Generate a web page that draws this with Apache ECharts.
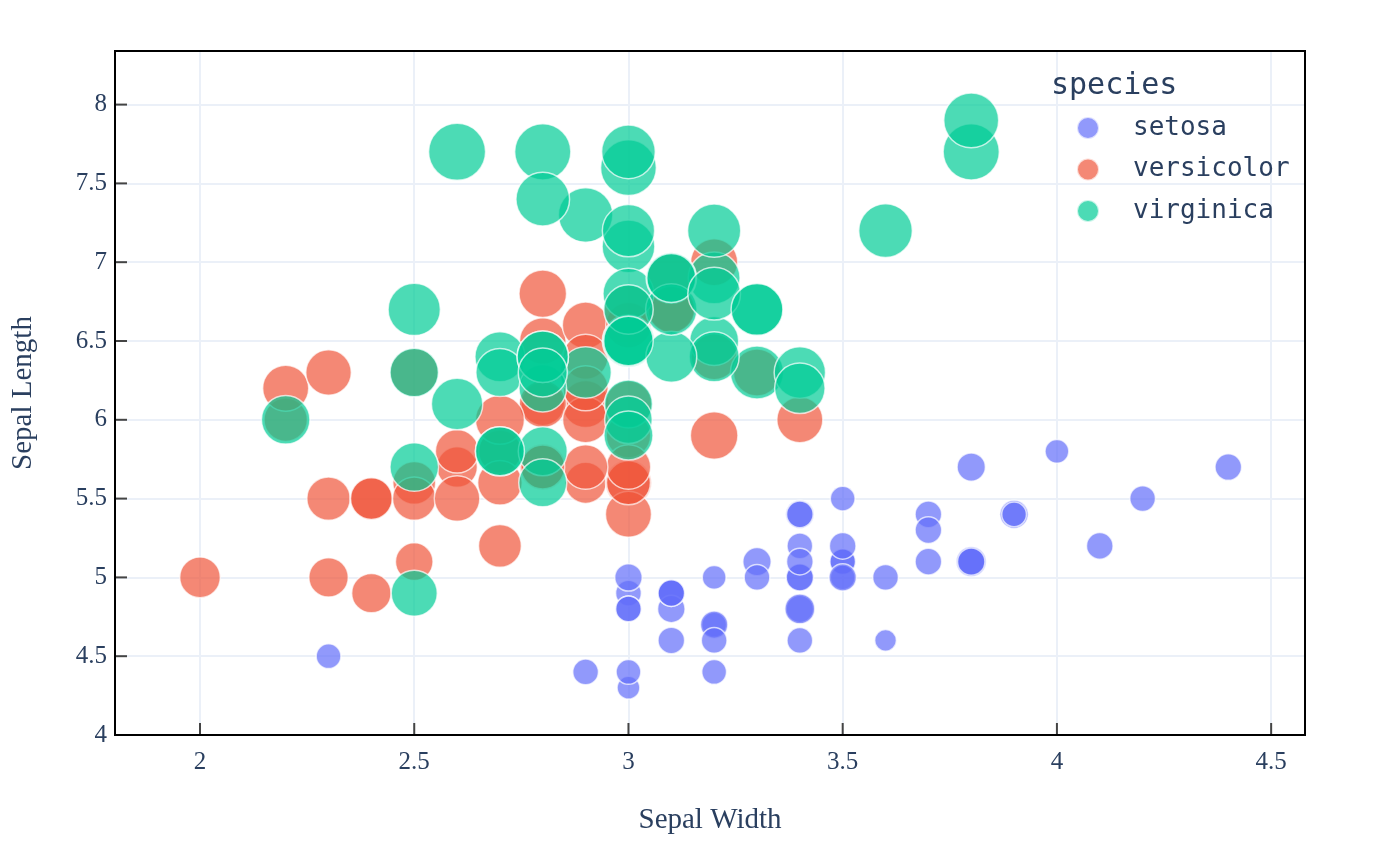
<!DOCTYPE html>
<html>
<head>
<meta charset="utf-8">
<script src="https://cdn.jsdelivr.net/npm/echarts@6/dist/echarts.min.js"></script>
<style>html,body{margin:0;padding:0;background:#fff}#c{width:1386px;height:856px}</style>
</head>
<body>
<div id="c"></div>
<script>
const species = ['setosa', 'versicolor', 'virginica'];
const speciesColors = ['#636efa', '#EF553B', '#00cc96'];
const xTicks = [2, 2.5, 3, 3.5, 4, 4.5];
const yTicks = [4, 4.5, 5, 5.5, 6, 6.5, 7, 7.5, 8];

const setosaWidth = [3.5,3.0,3.2,3.1,3.6,3.9,3.4,3.4,2.9,3.1,3.7,3.4,3.0,3.0,4.0,4.4,3.9,3.5,3.8,3.8,3.4,3.7,3.6,3.3,3.4,3.0,3.4,3.5,3.4,3.2,3.1,3.4,4.1,4.2,3.1,3.2,3.5,3.1,3.0,3.4,3.5,2.3,3.2,3.5,3.8,3.0,3.8,3.2,3.7,3.3];
const setosaLength = [5.1,4.9,4.7,4.6,5.0,5.4,4.6,5.0,4.4,4.9,5.4,4.8,4.8,4.3,5.8,5.7,5.4,5.1,5.7,5.1,5.4,5.1,4.6,5.1,4.8,5.0,5.0,5.2,5.2,4.7,4.8,5.4,5.2,5.5,4.9,5.0,5.5,4.9,4.4,5.1,5.0,4.5,4.4,5.0,5.1,4.8,5.1,4.6,5.3,5.0];
const setosaPetal = [1.4,1.4,1.3,1.5,1.4,1.7,1.4,1.5,1.4,1.5,1.5,1.6,1.4,1.1,1.2,1.5,1.3,1.4,1.7,1.5,1.7,1.5,1.0,1.7,1.9,1.6,1.6,1.5,1.4,1.6,1.6,1.5,1.5,1.4,1.5,1.2,1.3,1.5,1.3,1.5,1.3,1.3,1.3,1.6,1.9,1.4,1.6,1.4,1.5,1.4];

const versicolorWidth = [3.2,3.2,3.1,2.3,2.8,2.8,3.3,2.4,2.9,2.7,2.0,3.0,2.2,2.9,2.9,3.1,3.0,2.7,2.2,2.5,3.2,2.8,2.5,2.8,2.9,3.0,2.8,3.0,2.9,2.6,2.4,2.4,2.7,2.7,3.0,3.4,3.1,2.3,3.0,2.5,2.6,3.0,2.6,2.3,2.7,3.0,2.9,2.9,2.5,2.8];
const versicolorLength = [7.0,6.4,6.9,5.5,6.5,5.7,6.3,4.9,6.6,5.2,5.0,5.9,6.0,6.1,5.6,6.7,5.6,5.8,6.2,5.6,5.9,6.1,6.3,6.1,6.4,6.6,6.8,6.7,6.0,5.7,5.5,5.5,5.8,6.0,5.4,6.0,6.7,6.3,5.6,5.5,5.5,6.1,5.8,5.0,5.6,5.7,5.7,6.2,5.1,5.7];
const versicolorPetal = [4.7,4.5,4.9,4.0,4.6,4.5,4.7,3.3,4.6,3.9,3.5,4.2,4.0,4.7,3.6,4.4,4.5,4.1,4.5,3.9,4.8,4.0,4.9,4.7,4.3,4.4,4.8,5.0,4.5,3.5,3.8,3.7,3.9,5.1,4.5,4.5,4.7,4.4,4.1,4.0,4.4,4.6,4.0,3.3,4.2,4.2,4.2,4.3,3.0,4.1];

const virginicaWidth = [3.3,2.7,3.0,2.9,3.0,3.0,2.5,2.9,2.5,3.6,3.2,2.7,3.0,2.5,2.8,3.2,3.0,3.8,2.6,2.2,3.2,2.8,2.8,2.7,3.3,3.2,2.8,3.0,2.8,3.0,2.8,3.8,2.8,2.8,2.6,3.0,3.4,3.1,3.0,3.1,3.1,3.1,2.7,3.2,3.3,3.0,2.5,3.0,3.4,3.0];
const virginicaLength = [6.3,5.8,7.1,6.3,6.5,7.6,4.9,7.3,6.7,7.2,6.5,6.4,6.8,5.7,5.8,6.4,6.5,7.7,7.7,6.0,6.9,5.6,7.7,6.3,6.7,7.2,6.2,6.1,6.4,7.2,7.4,7.9,6.4,6.3,6.1,7.7,6.3,6.4,6.0,6.9,6.7,6.9,5.8,6.8,6.7,6.7,6.3,6.5,6.2,5.9];
const virginicaPetal = [6.0,5.1,5.9,5.6,5.8,6.6,4.5,6.3,5.8,6.1,5.1,5.3,5.5,5.0,5.1,5.3,5.5,6.7,6.9,5.0,5.7,4.9,6.7,4.9,5.7,6.0,4.8,4.9,5.6,5.8,6.1,6.4,5.6,5.1,5.6,6.1,5.6,5.5,4.8,5.4,5.6,5.1,5.1,5.9,5.7,5.2,5.0,5.2,5.4,5.1];

const widths = [setosaWidth, versicolorWidth, virginicaWidth];
const lengths = [setosaLength, versicolorLength, virginicaLength];
const petals = [setosaPetal, versicolorPetal, virginicaPetal];

const maxPetal = Math.max(...setosaPetal, ...versicolorPetal, ...virginicaPetal);
const SIZE_MAX = 57;
const textColor = '#2a3f5f';
const serif = '"Liberation Serif", "DejaVu Serif", serif';
const mono = '"DejaVu Sans Mono", "Liberation Mono", monospace';

const inTicks = (arr, v) => arr.some(t => Math.abs(t - v) < 1e-6);

const series = species.map((name, i) => ({
  name: name,
  type: 'scatter',
  data: widths[i].map((w, j) => [w, lengths[i][j], petals[i][j]]),
  symbol: 'circle',
  symbolSize: d => SIZE_MAX * Math.sqrt(d[2] / maxPetal),
  itemStyle: { color: speciesColors[i], opacity: 0.7, borderColor: '#ffffff', borderWidth: 1.5 },
  emphasis: { disabled: true },
  animation: false
}));

const GRID = { left: 115, top: 51, right: 81, bottom: 121 };
const W = 1386, H = 856;

const chart = echarts.init(document.getElementById('c'), null, { renderer: 'canvas' });
chart.setOption({
  animation: false,
  backgroundColor: '#ffffff',
  title: {
    text: 'species',
    left: 1046,
    top: 66,
    textStyle: { fontFamily: mono, fontSize: 30, fontWeight: 'normal', color: textColor }
  },
  legend: {
    orient: 'vertical',
    left: 1071,
    top: 110,
    itemWidth: 22,
    itemHeight: 22,
    itemGap: 15.5,
    icon: 'circle',
    data: species,
    textStyle: { fontFamily: mono, fontSize: 26, color: textColor, padding: [0, 0, 0, 29] }
  },
  grid: Object.assign({ show: false }, GRID),
  xAxis: {
    type: 'value',
    min: 1.8016, max: 4.579,
    minInterval: 0.5, maxInterval: 0.5, splitNumber: 5,
    name: 'Sepal Width', nameLocation: 'middle', nameGap: 71,
    nameTextStyle: { fontFamily: serif, fontSize: 29, color: textColor },
    axisLine: { show: false },
    axisTick: { show: false },
    axisLabel: {
      fontFamily: serif, fontSize: 25, color: textColor, margin: 15,
      showMinLabel: true, showMaxLabel: true,
      formatter: v => inTicks(xTicks, v) ? String(v) : ''
    },
    splitLine: { show: true, showMinLine: false, showMaxLine: false, lineStyle: { color: '#EBF0F8', width: 2 } }
  },
  yAxis: {
    type: 'value',
    min: 4, max: 8.34,
    minInterval: 0.5, maxInterval: 0.5, splitNumber: 8,
    name: 'Sepal Length', nameLocation: 'middle', nameGap: 77,
    nameTextStyle: { fontFamily: serif, fontSize: 29, color: textColor },
    axisLine: { show: false },
    axisTick: { show: false },
    axisLabel: {
      fontFamily: serif, fontSize: 25, color: textColor, margin: 8,
      showMinLabel: true, showMaxLabel: true,
      formatter: v => inTicks(yTicks, v) ? String(v) : ''
    },
    splitLine: { show: true, showMinLine: false, showMaxLine: false, lineStyle: { color: '#EBF0F8', width: 2 } }
  },
  series: series
});

// frame and inside ticks, positioned through the axes' own scales
const gLeft = GRID.left, gTop = GRID.top, gRight = W - GRID.right, gBottom = H - GRID.bottom;
const elements = [];
xTicks.forEach(t => {
  const px = chart.convertToPixel({ xAxisIndex: 0 }, t);
  elements.push({ type: 'line', z: 100, shape: { x1: px, y1: gBottom, x2: px, y2: gBottom - 12 }, style: { stroke: '#444', lineWidth: 2 } });
});
yTicks.forEach(t => {
  const py = chart.convertToPixel({ yAxisIndex: 0 }, t);
  elements.push({ type: 'line', z: 100, shape: { x1: gLeft, y1: py, x2: gLeft + 12, y2: py }, style: { stroke: '#444', lineWidth: 2 } });
});
elements.push({ type: 'rect', z: 101, shape: { x: gLeft, y: gTop, width: gRight - gLeft, height: gBottom - gTop }, style: { fill: 'none', stroke: '#000', lineWidth: 2 } });
chart.setOption({ graphic: { elements: elements } });
</script>
</body>
</html>
